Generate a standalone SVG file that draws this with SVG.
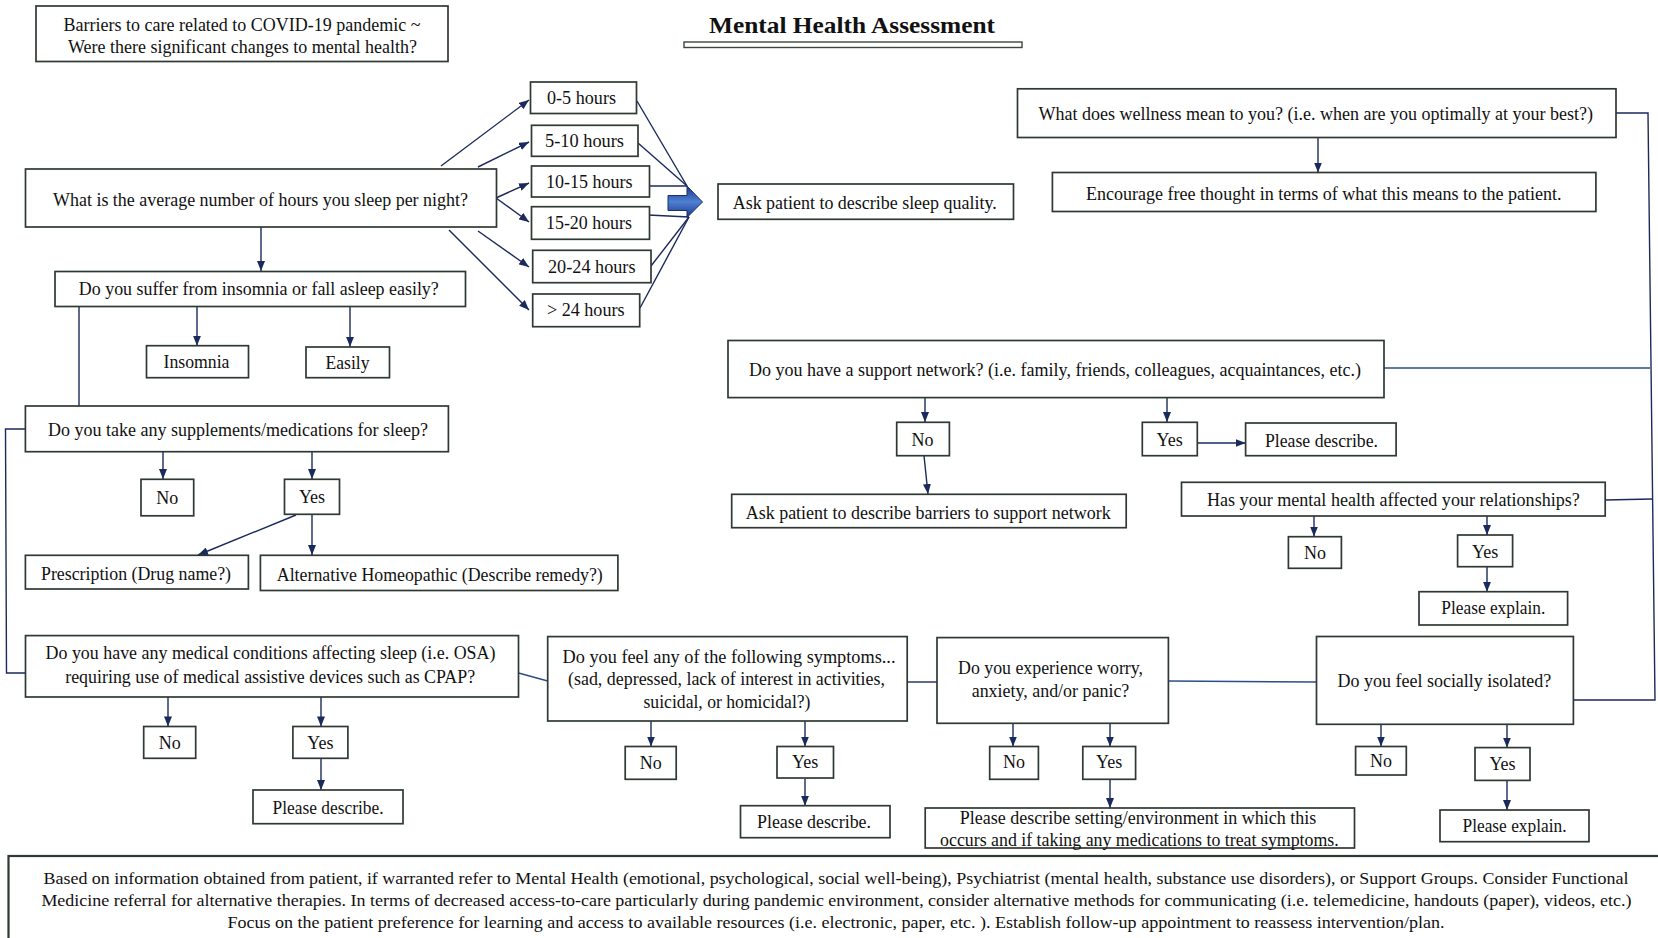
<svg xmlns="http://www.w3.org/2000/svg" width="1658" height="938" viewBox="0 0 1658 938">
  <style>
    .box { fill: #ffffff; stroke: #2e3a31; stroke-width: 1.7; }
    .t { font-family: "Liberation Serif", "Times New Roman", serif; font-size: 18px; fill: #111111; text-anchor: middle; }
    .ts { font-family: "Liberation Serif", "Times New Roman", serif; font-size: 18px; fill: #111111; text-anchor: start; }
    .title { font-family: "Liberation Serif", "Times New Roman", serif; font-size: 24px; font-weight: bold; fill: #111111; }
    .note { font-family: "Liberation Serif", "Times New Roman", serif; font-size: 17px; fill: #111111; text-anchor: middle; }
    .c { stroke: #1b2a5c; stroke-width: 1.4; fill: none; }
    .cb { stroke: #2c4d86; stroke-width: 1.6; fill: none; }
    .a { marker-end: url(#ah); }
  </style>
  <defs>
    <marker id="ah" viewBox="0 0 10 8" refX="10" refY="4" markerWidth="10" markerHeight="8" markerUnits="userSpaceOnUse" orient="auto">
      <path d="M0,0 L10,4 L0,8 z" fill="#1b2a5c"/>
    </marker>
    <linearGradient id="blockFill" x1="0" y1="0" x2="0" y2="1">
      <stop offset="0" stop-color="#19388a"/>
      <stop offset="0.5" stop-color="#4f80d2"/>
      <stop offset="1" stop-color="#19388a"/>
    </linearGradient>
  </defs>

  <rect width="1658" height="938" fill="#ffffff"/>

  <!-- heading -->
  <g id="title">
    <text class="title" x="709" y="33" textLength="286" lengthAdjust="spacingAndGlyphs">Mental Health Assessment</text>
    <rect x="684" y="42" width="338" height="5.5" fill="#ffffff" stroke="#3a463c" stroke-width="1.4"/>
  </g>

  <!-- connectors -->
  <g id="connectors">
    <!-- sleep hours fan-out -->
    <path class="c a" d="M441,166 L529,100"/>
    <path class="c a" d="M478,167 L529,142"/>
    <path class="c a" d="M496,198 L529,183"/>
    <path class="c a" d="M496,198 L529,222"/>
    <path class="c a" d="M478,231 L529,267"/>
    <path class="c a" d="M449,230 L529,310"/>
    <!-- hours converge on the block arrow -->
    <path class="c" d="M637,101 L687,186"/>
    <path class="c" d="M638,143 L687,186"/>
    <path class="c" d="M649,186 L687,186"/>
    <path class="c" d="M648,215 L689,217"/>
    <path class="c" d="M651,266 L689,217"/>
    <path class="c" d="M640,308 L689,217"/>
    <!-- sleep column -->
    <path class="c a" d="M261,227 L261,271"/>
    <path class="c" d="M79,306.6 L79,406"/>
    <path class="c a" d="M197,306.6 L197,345.7"/>
    <path class="c a" d="M350,306.6 L350,346.8"/>
    <path class="c" d="M25.4,429 L5.5,429 L6.5,673 L25.4,673"/>
    <path class="c a" d="M163,451.7 L163,479"/>
    <path class="c a" d="M312,451.7 L312,479"/>
    <path class="c a" d="M296,515 L198,555"/>
    <path class="c a" d="M312,514.5 L312,555"/>
    <!-- medical conditions -->
    <path class="c a" d="M168,697 L168,726.4"/>
    <path class="c a" d="M321,697 L321,726.4"/>
    <path class="c a" d="M321,758 L321,790"/>
    <path class="cb" d="M518.5,673 L547.7,681"/>
    <!-- symptoms -->
    <path class="c a" d="M651,721 L651,746.5"/>
    <path class="c a" d="M805,721 L805,746.5"/>
    <path class="c a" d="M805,779 L805,805.7"/>
    <path class="c" d="M907.2,682 L937,682"/>
    <!-- worry -->
    <path class="c a" d="M1013,723.3 L1013,746.5"/>
    <path class="c a" d="M1110,723.3 L1110,746.5"/>
    <path class="c a" d="M1110,779.3 L1110,808"/>
    <path class="cb" d="M1168.4,681 L1316.5,682"/>
    <!-- social isolation -->
    <path class="c a" d="M1381,724.3 L1381,746.5"/>
    <path class="c a" d="M1507,724.3 L1507,747.6"/>
    <path class="c a" d="M1507,780.4 L1507,810"/>
    <!-- right-hand spine -->
    <path class="c" d="M1573.4,700 L1655,700 L1648,113 L1616,113"/>
    <path class="cb" d="M1384,368 L1650,368"/>
    <path class="c" d="M1605,500 L1652,499"/>
    <!-- wellness -->
    <path class="c a" d="M1318,137.5 L1318,172.5"/>
    <!-- support network -->
    <path class="c a" d="M925,397.6 L925,422"/>
    <path class="c a" d="M1167,397.6 L1167,422"/>
    <path class="c a" d="M1197,443 L1245.6,443"/>
    <path class="c a" d="M924,455.7 L928,494"/>
    <!-- relationships -->
    <path class="c a" d="M1314,516 L1314,536.5"/>
    <path class="c a" d="M1487,516 L1487,535"/>
    <path class="c a" d="M1487,566.7 L1487,591.7"/>
    <!-- block arrow into sleep quality -->
    <path d="M668,195.5 L687,195.5 L687,186 L702.5,202 L687,217.5 L687,210.5 L668,210.5 Z" fill="url(#blockFill)" stroke="#1a2f6e" stroke-width="1"/>
  </g>

  <!-- nodes -->
  <g id="barriers">
    <rect class="box" x="36" y="6" width="412" height="55.5"/>
    <text class="t" x="242" y="30.5" textLength="357" lengthAdjust="spacingAndGlyphs">Barriers to care related to COVID-19 pandemic ~</text>
    <text class="t" x="242.5" y="52.5" textLength="349" lengthAdjust="spacingAndGlyphs">Were there significant changes to mental health?</text>
  </g>

  <g id="sleep-hours">
    <rect class="box" x="25.5" y="169" width="471" height="58"/>
    <text class="t" x="260.5" y="206" textLength="415" lengthAdjust="spacingAndGlyphs">What is the average number of hours you sleep per night?</text>
  </g>

  <g id="h-0-5">
    <rect class="box" x="530.5" y="82" width="106" height="31.5"/>
    <text class="ts" x="547" y="104" textLength="69" lengthAdjust="spacingAndGlyphs">0-5 hours</text>
  </g>
  <g id="h-5-10">
    <rect class="box" x="531.5" y="125.3" width="106.5" height="31"/>
    <text class="ts" x="545" y="147" textLength="79" lengthAdjust="spacingAndGlyphs">5-10 hours</text>
  </g>
  <g id="h-10-15">
    <rect class="box" x="531.5" y="166" width="118" height="31"/>
    <text class="ts" x="546" y="188" textLength="86.5" lengthAdjust="spacingAndGlyphs">10-15 hours</text>
  </g>
  <g id="h-15-20">
    <rect class="box" x="531.5" y="206.7" width="118" height="32.6"/>
    <text class="ts" x="546" y="229" textLength="86" lengthAdjust="spacingAndGlyphs">15-20 hours</text>
  </g>
  <g id="h-20-24">
    <rect class="box" x="532.7" y="250.3" width="118.3" height="32.4"/>
    <text class="ts" x="548" y="272.8" textLength="87.5" lengthAdjust="spacingAndGlyphs">20-24 hours</text>
  </g>
  <g id="h-24">
    <rect class="box" x="532.7" y="294" width="107" height="32.7"/>
    <text class="ts" x="547" y="316" textLength="77.5" lengthAdjust="spacingAndGlyphs">&gt; 24 hours</text>
  </g>

  <g id="sleep-quality">
    <rect class="box" x="718" y="184" width="295.5" height="35.3"/>
    <text class="t" x="864.7" y="208.5" textLength="264" lengthAdjust="spacingAndGlyphs">Ask patient to describe sleep quality.</text>
  </g>

  <g id="insomnia-question">
    <rect class="box" x="55" y="271.5" width="410.5" height="35"/>
    <text class="t" x="258.8" y="295" textLength="360" lengthAdjust="spacingAndGlyphs">Do you suffer from insomnia or fall asleep easily?</text>
  </g>
  <g id="insomnia">
    <rect class="box" x="146.5" y="345.7" width="102" height="32"/>
    <text class="t" x="196.5" y="368" textLength="66" lengthAdjust="spacingAndGlyphs">Insomnia</text>
  </g>
  <g id="easily">
    <rect class="box" x="306" y="347" width="83.5" height="30.7"/>
    <text class="t" x="347.5" y="369" textLength="44" lengthAdjust="spacingAndGlyphs">Easily</text>
  </g>

  <g id="supplements">
    <rect class="box" x="25.4" y="406" width="423" height="45.7"/>
    <text class="t" x="238" y="435.5" textLength="380" lengthAdjust="spacingAndGlyphs">Do you take any supplements/medications for sleep?</text>
  </g>
  <g id="supplements-no">
    <rect class="box" x="141" y="479.3" width="52.7" height="36.5"/>
    <text class="t" x="167.3" y="503.5">No</text>
  </g>
  <g id="supplements-yes">
    <rect class="box" x="284.5" y="479.3" width="55" height="35"/>
    <text class="t" x="312" y="502.5">Yes</text>
  </g>
  <g id="prescription">
    <rect class="box" x="25.4" y="555.3" width="223" height="33.7"/>
    <text class="t" x="136" y="579.5" textLength="190" lengthAdjust="spacingAndGlyphs">Prescription (Drug name?)</text>
  </g>
  <g id="alternative">
    <rect class="box" x="260.4" y="555.3" width="357.5" height="35.2"/>
    <text class="t" x="439.8" y="580.5" textLength="326" lengthAdjust="spacingAndGlyphs">Alternative Homeopathic (Describe remedy?)</text>
  </g>

  <g id="medical">
    <rect class="box" x="25.5" y="635.6" width="493" height="61.4"/>
    <text class="t" x="270.5" y="659" textLength="450" lengthAdjust="spacingAndGlyphs">Do you have any medical conditions affecting sleep (i.e. OSA)</text>
    <text class="t" x="270.2" y="683" textLength="410" lengthAdjust="spacingAndGlyphs">requiring use of medical assistive devices such as CPAP?</text>
  </g>
  <g id="medical-no">
    <rect class="box" x="143.7" y="726.5" width="52" height="31.8"/>
    <text class="t" x="169.7" y="748.5">No</text>
  </g>
  <g id="medical-yes">
    <rect class="box" x="292.9" y="726.5" width="55" height="31.8"/>
    <text class="t" x="320.4" y="748.5">Yes</text>
  </g>
  <g id="medical-describe">
    <rect class="box" x="253" y="790" width="150" height="33.7"/>
    <text class="t" x="328" y="814" textLength="111" lengthAdjust="spacingAndGlyphs">Please describe.</text>
  </g>

  <g id="symptoms">
    <rect class="box" x="547.7" y="636.6" width="359.5" height="84.4"/>
    <text class="t" x="729" y="662.5" textLength="333" lengthAdjust="spacingAndGlyphs">Do you feel any of the following symptoms...</text>
    <text class="t" x="726.5" y="685" textLength="317" lengthAdjust="spacingAndGlyphs">(sad, depressed, lack of interest in activities,</text>
    <text class="t" x="727" y="707.5" textLength="167" lengthAdjust="spacingAndGlyphs">suicidal, or homicidal?)</text>
  </g>
  <g id="symptoms-no">
    <rect class="box" x="625.2" y="746.5" width="51" height="32.8"/>
    <text class="t" x="650.7" y="768.5">No</text>
  </g>
  <g id="symptoms-yes">
    <rect class="box" x="777" y="746.5" width="56.5" height="31.5"/>
    <text class="t" x="805.2" y="768">Yes</text>
  </g>
  <g id="symptoms-describe">
    <rect class="box" x="740.5" y="805.7" width="149.5" height="32"/>
    <text class="t" x="814" y="827.5" textLength="114" lengthAdjust="spacingAndGlyphs">Please describe.</text>
  </g>

  <g id="worry">
    <rect class="box" x="937" y="637.6" width="231.4" height="85.7"/>
    <text class="t" x="1050.5" y="674.3" textLength="185" lengthAdjust="spacingAndGlyphs">Do you experience worry,</text>
    <text class="t" x="1050.5" y="696.5" textLength="157.6" lengthAdjust="spacingAndGlyphs">anxiety, and/or panic?</text>
  </g>
  <g id="worry-no">
    <rect class="box" x="989.7" y="746.5" width="48.7" height="32.8"/>
    <text class="t" x="1014" y="767.5">No</text>
  </g>
  <g id="worry-yes">
    <rect class="box" x="1082.8" y="746.5" width="52.8" height="32.8"/>
    <text class="t" x="1109.2" y="767.5">Yes</text>
  </g>
  <g id="worry-setting">
    <rect class="box" x="925.2" y="808" width="429.3" height="40"/>
    <text class="t" x="1138" y="823.5" textLength="356.5" lengthAdjust="spacingAndGlyphs">Please describe setting/environment in which this</text>
    <text class="t" x="1139.4" y="845.5" textLength="398.7" lengthAdjust="spacingAndGlyphs">occurs and if taking any medications to treat symptoms.</text>
  </g>

  <g id="social">
    <rect class="box" x="1316.5" y="636.5" width="256.9" height="87.8"/>
    <text class="t" x="1444.4" y="687" textLength="213.6" lengthAdjust="spacingAndGlyphs">Do you feel socially isolated?</text>
  </g>
  <g id="social-no">
    <rect class="box" x="1355.6" y="746.5" width="50.7" height="28.5"/>
    <text class="t" x="1381" y="766.5">No</text>
  </g>
  <g id="social-yes">
    <rect class="box" x="1475" y="747.6" width="55" height="32.8"/>
    <text class="t" x="1502.5" y="769.5">Yes</text>
  </g>
  <g id="social-explain">
    <rect class="box" x="1440" y="810" width="149" height="31.7"/>
    <text class="t" x="1514.5" y="831.8" textLength="104" lengthAdjust="spacingAndGlyphs">Please explain.</text>
  </g>

  <g id="wellness">
    <rect class="box" x="1017.5" y="88.8" width="598.5" height="48.7"/>
    <text class="t" x="1315.7" y="120.2" textLength="554.6" lengthAdjust="spacingAndGlyphs">What does wellness mean to you? (i.e. when are you optimally at your best?)</text>
  </g>
  <g id="wellness-encourage">
    <rect class="box" x="1052.4" y="172.5" width="543.5" height="39"/>
    <text class="t" x="1323.8" y="199.7" textLength="475.6" lengthAdjust="spacingAndGlyphs">Encourage free thought in terms of what this means to the patient.</text>
  </g>

  <g id="support">
    <rect class="box" x="728" y="340.5" width="656" height="57.1"/>
    <text class="t" x="1055" y="375.5" textLength="612" lengthAdjust="spacingAndGlyphs">Do you have a support network? (i.e. family, friends, colleagues, acquaintances, etc.)</text>
  </g>
  <g id="support-no">
    <rect class="box" x="896.7" y="422.3" width="52.7" height="33.4"/>
    <text class="t" x="922.5" y="445.5">No</text>
  </g>
  <g id="support-yes">
    <rect class="box" x="1142.3" y="422.3" width="55" height="33.4"/>
    <text class="t" x="1169.7" y="445.5">Yes</text>
  </g>
  <g id="support-describe">
    <rect class="box" x="1245.6" y="423" width="150.5" height="32.7" stroke="#2f4a35" stroke-width="2"/>
    <text class="t" x="1321.5" y="446.8" textLength="113" lengthAdjust="spacingAndGlyphs">Please describe.</text>
  </g>
  <g id="support-barriers">
    <rect class="box" x="731.7" y="494.3" width="394.5" height="33.4"/>
    <text class="t" x="928.2" y="518.8" textLength="365" lengthAdjust="spacingAndGlyphs">Ask patient to describe barriers to support network</text>
  </g>

  <g id="relationships">
    <rect class="box" x="1181.5" y="482.3" width="423.7" height="33.7"/>
    <text class="t" x="1393.4" y="506" textLength="372.8" lengthAdjust="spacingAndGlyphs">Has your mental health affected your relationships?</text>
  </g>
  <g id="relationships-no">
    <rect class="box" x="1288.4" y="536.7" width="53" height="31.6"/>
    <text class="t" x="1314.9" y="558.7">No</text>
  </g>
  <g id="relationships-yes">
    <rect class="box" x="1457.6" y="535" width="55" height="31.7"/>
    <text class="t" x="1485.1" y="557.7">Yes</text>
  </g>
  <g id="relationships-explain">
    <rect class="box" x="1419" y="591.7" width="148.6" height="33.3"/>
    <text class="t" x="1493.3" y="614.3" textLength="104" lengthAdjust="spacingAndGlyphs">Please explain.</text>
  </g>

  <g id="referral-note">
    <rect x="8.5" y="856" width="1660" height="90" fill="#ffffff" stroke="#2e3a31" stroke-width="2.2"/>
    <text class="note" x="836" y="883.5" textLength="1585" lengthAdjust="spacingAndGlyphs">Based on information obtained from patient, if warranted refer to Mental Health (emotional, psychological, social well-being), Psychiatrist (mental health, substance use disorders), or Support Groups. Consider Functional</text>
    <text class="note" x="836.4" y="905.5" textLength="1590" lengthAdjust="spacingAndGlyphs">Medicine referral for alternative therapies. In terms of decreased access-to-care particularly during pandemic environment, consider alternative methods for communicating (i.e. telemedicine, handouts (paper), videos, etc.)</text>
    <text class="note" x="836" y="927.5" textLength="1217" lengthAdjust="spacingAndGlyphs">Focus on the patient preference for learning and access to available resources (i.e. electronic, paper, etc. ). Establish follow-up appointment to reassess intervention/plan.</text>
  </g>
</svg>
